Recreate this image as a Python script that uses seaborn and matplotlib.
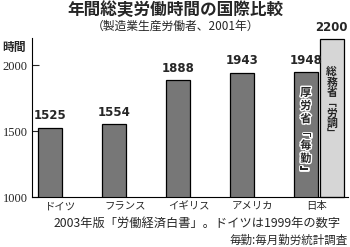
import matplotlib
matplotlib.use("Agg")
import matplotlib.pyplot as plt
import matplotlib.patheffects as pe
import seaborn as sns
import pandas as pd

countries = ["ドイツ", "フランス", "イギリス", "アメリカ", "日本"]
hours = [1525, 1554, 1888, 1943, 1948]
japan_alt_value = 2200
japan_alt_label = "総務省「労調」"
japan_main_label = "厚労省「毎勤」"
yticks = [1000, 1500, 2000]
title = "年間総実労働時間の国際比較"
subtitle = "（製造業生産労働者、2001年）"
note1 = "2003年版「労働経済白書」。ドイツは1999年の数字"
note2 = "毎勤:毎月勤労統計調査"
ylabel = "時間"

sns.set_style("white")
plt.rcParams['font.family'] = ['Noto Sans CJK JP', 'DejaVu Sans']

fig = plt.figure(figsize=(3.5, 2.47), dpi=100)
ax = fig.add_axes([32/350, 1-197/247, (348-32)/350, (197-38)/247])

df = pd.DataFrame({"country": countries, "hours": hours})
sns.barplot(data=df, x="country", y="hours", order=countries, color="#777777",
            saturation=1, width=0.375, edgecolor="black", linewidth=0.9, ax=ax)
alt_x = 4 + 0.405
ax.bar(alt_x, japan_alt_value - 1000, bottom=1000, width=0.375,
       color="#d6d6d6", edgecolor="black", linewidth=0.9, clip_on=False)

ax.set_ylim(1000, 2205)
ax.set_xlim(-0.28, 4.66)
ax.set_yticks(yticks)
ax.set_yticklabels([str(v) for v in yticks], family="Liberation Serif", fontsize=9)
ax.set_xticks([i + 0.17 for i in range(len(countries))])
ax.set_xticklabels(countries)
ax.tick_params(axis="y", direction="in", length=5, width=0.8, pad=3, left=True)
ax.tick_params(axis="x", length=0, pad=3, labelsize=7.5)
ax.set_xlabel("")
ax.set_ylabel("")
for s in ["top", "right"]:
    ax.spines[s].set_visible(False)
for s in ["left", "bottom"]:
    ax.spines[s].set_color("black")
    ax.spines[s].set_linewidth(0.8)

for i, v in enumerate(hours):
    ax.text(i, v + 40, str(v), ha="center", va="bottom", fontsize=8.5,
            fontweight="bold", family="DejaVu Sans")
ax.text(alt_x, japan_alt_value + 35, str(japan_alt_value), ha="center",
        va="bottom", fontsize=8.5, fontweight="bold", family="DejaVu Sans", clip_on=False)

def vert(s):
    return "\n".join(s.replace("「", "﹁").replace("」", "﹂"))

ax.text(4, 1492, vert(japan_main_label), ha="center", va="center", fontsize=8,
        fontweight="bold", linespacing=1.02,
        path_effects=[pe.withStroke(linewidth=2, foreground="white")])
ax.text(alt_x, 1712, vert(japan_alt_label), ha="center", va="center",
        fontsize=7.8, fontweight="bold", linespacing=1.02)

fig.text(0.5, 1-10/247, title, ha="center", va="center", fontsize=12, fontweight="bold")
fig.text(0.5, 1-26/247, subtitle, ha="center", va="center", fontsize=8.5)
fig.text(2/350, 1-47/247, ylabel, ha="left", va="center", fontsize=8.5, fontweight="bold")
fig.text(197/350, 1-223/247, note1, ha="center", va="center", fontsize=8.8)
fig.text(348/350, 1-240/247, note2, ha="right", va="center", fontsize=8.3)

fig.savefig("out.png", dpi=100)
